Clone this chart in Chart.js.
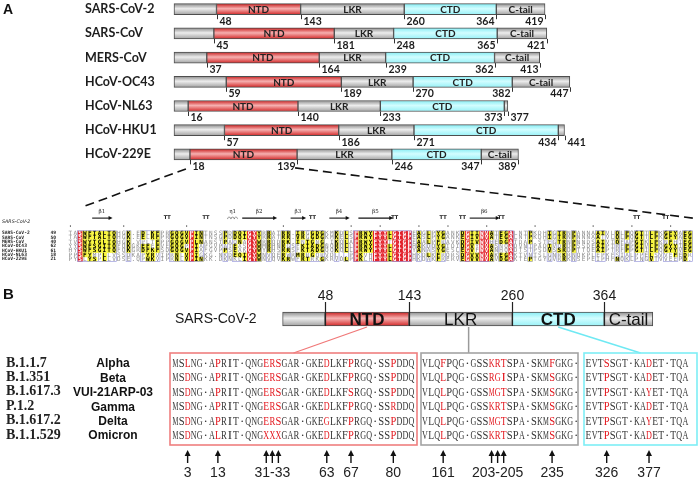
<!DOCTYPE html>
<html>
<head>
<meta charset="utf-8">
<script src="https://cdn.jsdelivr.net/npm/chart.js@4.4.0/dist/chart.umd.min.js"></script>
<style>
  html, body { margin: 0; padding: 0; background: #fff; overflow: hidden; }
  canvas { display: block; }
</style>
</head>
<body>
<canvas id="fig" width="699" height="480"></canvas>
<script>
// ============================================
// Panel A — N protein domain boundaries
// ============================================
const viruses  = ['SARS-CoV-2', 'SARS-CoV', 'MERS-CoV', 'HCoV-OC43', 'HCoV-NL63', 'HCoV-HKU1', 'HCoV-229E'];
const ntdStart = [48, 45, 37, 59, 16, 57, 18];
const ntdEnd   = [143, 181, 164, 189, 140, 186, 139];
const ctdStart = [260, 248, 239, 270, 233, 271, 246];
const ctdEnd   = [364, 365, 362, 382, 373, 434, 347];
const protLen  = [419, 421, 413, 447, 377, 441, 389];

// NTD alignment (ESPript style)
const alnNames = ['SARS-CoV-2', 'SARS-CoV', 'MERS-CoV', 'HCoV-OC43', 'HCoV-HKU1', 'HCoV-NL63', 'HCoV-229E'];
const alnStart = [49, 50, 40, 62, 61, 18, 21];
const alnSeqs = [
  'TASWFTALTQHGK' + '.EDLKFPRGQGVPINTNSSPDDQ' + 'IGYYRRATRR' + '.IRGGDGKMKDL' + 'SPRWYFYYLGTGP' + 'EAGLPYGANKDG' + 'IIWVATEGALNTPKDHIGTRNP' + 'ANNAAIVLQLPQGTTLPKGFYAEG',
  'TASWFTALTQHGK' + '.EELRFPRGQGVPINTNSGPDDQ' + 'IGYYRRATRR' + '.VRGGDGKMKEL' + 'SPRWYFYYLGTGP' + 'EASLPYGANKEG' + 'IVWVATEGALNTPKDHIGTRNP' + 'NNNAATVLQLPQGTTLPKGFYAEG',
  'TVSWYTGLTQHGK' + '.VPLTFPPGQGVPLNANSTPAQN' + 'AGYWRRQDRK' + '.INTGNG.IKQL' + 'APRWYFYYTGTGP' + 'EAALPFRAVKDG' + 'IVWVHEDGATDAP.STFGTRNP' + 'NNDSAIVTQFAPGTKLPKNFHIEG',
  'YYSWFSGITQFQK' + 'GKEFEFVEGQGPPIAPGVPATEA' + 'SGYWMRHNRG' + 'SFKTADGNQRQL' + 'LPRWYFYYLGTGP' + 'HAKDQYGTDIDG' + 'VYWVASNQADVNTPADIVDRDP' + 'SSDEAIPTRFPPGTVLPQGYYIEG',
  'HYSWFSGITQFQK' + 'GRDFKFSDGQGVPIAFGVPPSEA' + 'KGYWYRHSRR' + 'SFKTADGQQKQL' + 'LPRWYFYYLGTGP' + 'YANASYGESLEG' + 'VFWVANHQADTSTPSDVSSRDP' + 'TTQEAIPTRFPPGTILPQGYYVEG',
  'PPSFYMPLLVSSD' + 'KAPYRVIPRNLVPIGKG.NKDEQ' + 'IGYWNVQERW' + 'RMRRGQRVDL..' + 'PPKVHFYYLGTGP' + 'HKDLKFRQRSDG' + 'VVWVAKEGAKTVNTSLGNRKRN' + 'QKPLEPKFSIALPPELSVVEFEDR',
  'PYSLYSPLLVDSE' + '.QPWKVIPRNLVPINKK.DKNKL' + 'IGYWNVQVKR' + 'WFRTRKGKRVDL' + 'PPKLHFYYLGTGP' + 'HKDAKFRERVEG' + 'VVWVAVDGAKTEPTGYGVRRKN' + 'SEPEIPHFNQKLPNGVTVVEEPD.',
];
// secondary structure of SARS-CoV-2 NTD (alignment columns)
const ssStrands = [['β1', 5, 8], ['β2', 36, 42], ['β3', 46, 48], ['β4', 54, 57], ['β5', 60, 66], ['β6', 83, 88]];
const ssTurns = [20, 28, 50, 67, 77, 81, 89, 117, 123];
const ssDots = [0, 11, 24, 44, 58, 64, 72, 78, 86, 96, 108, 116, 124];

// ============================================
// Panel B — variants
// ============================================
const variantIds   = ['B.1.1.7', 'B.1.351', 'B.1.617.3', 'P.1.2', 'B.1.617.2', 'B.1.1.529'];
const variantNames = ['Alpha', 'Beta', 'VUI-21ARP-03', 'Gamma', 'Delta', 'Omicron'];
const seqNTD = [
  'MSLNG·APRIT·QNGERSGAR·GKEDLKFPRGQ·SSPDDQ',
  'MSDNG·APRIT·QNGERSGAR·GKEDLKFPRGQ·SSPDDQ',
  'MSDNG·APRIT·QNGERSGAR·GKEDLKFSRGQ·SSPDDQ',
  'MSDNG·APRIT·QNGERSGAR·GKEDLKFPRGQ·SSRDDQ',
  'MSDNG·APRIT·QNGERSGAR·GKEGLKFPRGQ·SSPDDQ',
  'MSDNG·ALRIT·QNGXXXGAR·GKEDLKFPRGQ·SSPDDQ',
];
const seqLKR = [
  'VLQFPQG·GSSKRTSPA·SKMFGKG·',
  'VLQLPQG·GSSRGISPA·SKMSGKG·',
  'VLQLPQG·GSSMGTSPA·SKMSGKG·',
  'VLQLPQG·GSSKRTSPA·SKMSGKG·',
  'VLQLPQG·GSSMGTSPA·SKMSGKG·',
  'VLQLPQG·GSSKRTSPA·SKMSGKG·',
];
const seqCTD = [
  'EVTSSGT·KADET·TQA',
  'EVTPSGT·KADET·TQA',
  'EVTPSGT·KAYET·TQA',
  'EVTPSGT·KADET·TQA',
  'EVTPSGT·KAYET·TQA',
  'EVTPSGT·KADET·TQA',
];
// mutated columns inside each box, and the residue labels under the arrows
const mutCols    = [[2, 7, 15, 16, 17, 25, 29, 36], [3, 11, 12, 13, 21], [3, 10]];
const siteLabels = [['3', '13', '31-33', '63', '67', '80'], ['161', '203-205', '235'], ['326', '377']];
const siteLabelCols = [[2, 7, 16, 25, 29, 36], [3, 12, 21], [3, 10]];

// ============================================
// style
// ============================================
const BAR_A = 11, BAR_B = 14;
const GRAY = ['#8c8c8c', '#ededed', '#a2a2a2'];
const RED  = ['#c91f1f', '#f6b0b0', '#d22828'];
const CYAN = ['#86ecf3', '#d2fdff', '#98f1f7'];
const SEQ_W = 6.05;
const boxes = [
  { left: 170, right: 417, seqX: 172.5, stroke: '#ef7f7f', seqs: seqNTD },
  { left: 421, right: 578, seqX: 422,   stroke: '#a3a3a3', seqs: seqLKR },
  { left: 584, right: 697, seqX: 585.5, stroke: '#7eeef6', seqs: seqCTD },
];
const BOX_TOP = 353, BOX_BOTTOM = 445;

// linear scale spanning the whole canvas with a given origin and density
function span(originPx, pxPerUnit, size) {
  return { min: -originPx / pxPerUnit, max: (size - originPx) / pxPerUnit };
}

function gloss(cols, thick, yAxis) {
  return (c) => {
    const ch = c.chart;
    if (c.type !== 'data' || !ch.chartArea || !c.raw) return cols[1];
    const yc = ch.scales[yAxis].getPixelForValue(c.raw.y);
    const g = ch.ctx.createLinearGradient(0, yc - thick / 2, 0, yc + thick / 2);
    g.addColorStop(0, cols[0]);
    g.addColorStop(0.45, cols[1]);
    g.addColorStop(1, cols[2]);
    return g;
  };
}

const segDefs = [
  { from: viruses.map(() => 0), to: ntdStart, cols: GRAY },
  { from: ntdStart, to: ntdEnd, cols: RED },
  { from: ntdEnd, to: ctdStart, cols: GRAY },
  { from: ctdStart, to: ctdEnd, cols: CYAN },
  { from: ctdEnd, to: protLen, cols: GRAY },
];
const datasets = [];
segDefs.forEach(d => {
  const common = { borderColor: '#4e4e4e', borderWidth: 1, borderSkipped: false, grouped: false };
  datasets.push(Object.assign({
    data: d.from.map((v, i) => ({ x: [v, d.to[i]], y: i })),
    xAxisID: 'xA', yAxisID: 'yA', barThickness: BAR_A,
    backgroundColor: gloss(d.cols, BAR_A, 'yA'),
  }, common));
  datasets.push(Object.assign({
    data: [{ x: [d.from[0], d.to[0]], y: 0 }],
    xAxisID: 'xB', yAxisID: 'yB', barThickness: BAR_B,
    backgroundColor: gloss(d.cols, BAR_B, 'yB'),
  }, common));
});

// ============================================
// drawing helpers
// ============================================
function txt(ctx, s, x, y, font, color, align = 'left', base = 'middle', maxW) {
  ctx.font = font; ctx.fillStyle = color; ctx.textAlign = align; ctx.textBaseline = base;
  if (maxW) ctx.fillText(s, x, y, maxW); else ctx.fillText(s, x, y);
}
function line(ctx, x1, y1, x2, y2, color, w, dash) {
  ctx.beginPath(); ctx.strokeStyle = color; ctx.lineWidth = w; ctx.setLineDash(dash || []);
  ctx.moveTo(x1, y1); ctx.lineTo(x2, y2); ctx.stroke(); ctx.setLineDash([]);
}

function drawPanelA(ctx, s) {
  const xA = s.xA, yA = s.yA, half = BAR_A / 2;
  txt(ctx, 'A', 3, 3, 'bold 14px "Liberation Sans"', '#111', 'left', 'top');
  viruses.forEach((name, i) => {
    const yc = yA.getPixelForValue(i);
    txt(ctx, name, 85, yc, 'bold 12.5px Lato', '#1d1d1d');
    const segs = [['NTD', ntdStart[i], ntdEnd[i]], ['LKR', ntdEnd[i], ctdStart[i]],
                  ['CTD', ctdStart[i], ctdEnd[i]], ['C-tail', ctdEnd[i], protLen[i]]];
    segs.forEach(([lab, a, b]) => {
      if (b - a < 20) return;
      txt(ctx, lab, xA.getPixelForValue((a + b) / 2), yc + 0.5, 'bold 10px Lato', '#222', 'center');
    });
    const bounds = [ntdStart[i], ntdEnd[i], ctdStart[i], ctdEnd[i], protLen[i]];
    const yb = yc + half;
    bounds.forEach((b, k) => {
      const x = Math.round(xA.getPixelForValue(b)) + 0.5;
      line(ctx, x, yb, x, yb + 4.5, '#333', 1);
      let right = k < 3;
      if (k === 4) right = protLen[i] - ctdEnd[i] < 15;
      if (i === viruses.length - 1 && k === 1) right = false; // zoom line starts here
      txt(ctx, String(b), right ? x + 2 : x - 2, yb + 6.5, 'bold 10.5px Lato', '#1d1d1d', right ? 'left' : 'right');
    });
  });
  // zoom lines towards the alignment
  const last = viruses.length - 1;
  const yb = yA.getPixelForValue(last) + half;
  line(ctx, xA.getPixelForValue(ntdStart[last]) - 4, yb + 9, s.xAln.getPixelForValue(2.4), s.yAln.getPixelForValue(-5.9), '#111', 1.6, [9, 5]);
  line(ctx, xA.getPixelForValue(ntdEnd[last]) - 2, yb + 8, s.xAln.getPixelForValue(128.6), s.yAln.getPixelForValue(-3.4), '#111', 1.6, [9, 5]);
}

const simGroups = ['ILVM', 'FYW', 'KRH', 'DE', 'ST', 'NQ', 'AG'];
function classOf(ch) {
  const g = simGroups.find(g => g.includes(ch));
  return g || ch;
}
function classify(col) {
  const res = col.filter(ch => ch !== '.' && ch !== ' ');
  const ids = {}, cls = {};
  res.forEach(ch => { ids[ch] = (ids[ch] || 0) + 1; const k = classOf(ch); cls[k] = (cls[k] || 0) + 1; });
  const idMax = Math.max(0, ...Object.values(ids));
  if (idMax === col.length) return { kind: 'id' };
  let bestK = null, bestN = 0;
  for (const k in cls) if (cls[k] > bestN) { bestN = cls[k]; bestK = k; }
  if (bestN >= 4) return { kind: 'sim', match: ch => ch !== '.' && classOf(ch) === bestK };
  return { kind: 'none' };
}

function drawAlignment(ctx, s) {
  const xs = s.xAln, ys = s.yAln;
  const cw = xs.getPixelForValue(1) - xs.getPixelForValue(0);
  const rh = ys.getPixelForValue(1) - ys.getPixelForValue(0);
  const nCol = Math.max(...alnSeqs.map(q => q.length));

  // secondary structure header
  txt(ctx, 'SARS-CoV-2', 2, ys.getPixelForValue(-2.5), 'italic 4.8px "DejaVu Sans"', '#222');
  const yLab = ys.getPixelForValue(-4.8), yArr = ys.getPixelForValue(-3.4), yDot = ys.getPixelForValue(-1.6);
  ssStrands.forEach(([lab, a, b]) => {
    const x1 = xs.getPixelForValue(a - 0.5), x2 = xs.getPixelForValue(b + 0.5);
    line(ctx, x1, yArr, x2 - 2, yArr, '#111', 1.1);
    ctx.beginPath(); ctx.fillStyle = '#111';
    ctx.moveTo(x2 + 1, yArr); ctx.lineTo(x2 - 3, yArr - 2); ctx.lineTo(x2 - 3, yArr + 2); ctx.closePath(); ctx.fill();
    txt(ctx, lab, (x1 + x2) / 2, yLab, '5.5px "DejaVu Serif"', '#222', 'center');
  });
  ssTurns.forEach(c => txt(ctx, 'TT', xs.getPixelForValue(c), yArr, 'bold 5px "DejaVu Sans"', '#111', 'center'));
  ssDots.forEach(c => { ctx.fillStyle = '#222'; ctx.fillRect(xs.getPixelForValue(c) - 0.5, yDot - 0.5, 1.1, 1.1); });
  // eta helix
  const xe = xs.getPixelForValue(33.5);
  txt(ctx, 'η1', xe, yLab, '5.5px "DejaVu Serif"', '#222', 'center');
  ctx.strokeStyle = '#555'; ctx.lineWidth = 0.6;
  for (let k = -1; k <= 1; k++) { ctx.beginPath(); ctx.arc(xe + k * 3.4, yArr + 0.5, 1.5, Math.PI * 0.9, Math.PI * 2.1, false); ctx.stroke(); }

  // row labels
  alnNames.forEach((n, r) => {
    const y = ys.getPixelForValue(r);
    txt(ctx, n, 2, y, 'bold 4.6px "DejaVu Sans Mono"', '#222');
    txt(ctx, String(alnStart[r]), 56, y, 'bold 4.6px "DejaVu Sans Mono"', '#222', 'right');
  });

  // residues
  const kinds = [];
  for (let c = 0; c < nCol; c++) {
    const col = alnSeqs.map(q => q[c] || '.');
    const k = classify(col);
    kinds.push(k.kind);
    const x = xs.getPixelForValue(c);
    col.forEach((ch, r) => {
      const y = ys.getPixelForValue(r);
      let bg = null, fg = '#8e8e8e', bold = false;
      if (k.kind === 'id') { bg = '#e2212b'; fg = '#fff'; bold = true; }
      else if (k.kind === 'sim' && k.match(ch)) { bg = '#f7f53c'; fg = '#000'; bold = true; }
      if (bg) { ctx.fillStyle = bg; ctx.fillRect(x - cw / 2, y - rh / 2, cw + 0.2, rh + 0.15); }
      txt(ctx, ch, x, y + 0.3, (bold ? 'bold ' : '') + '6px "DejaVu Sans Mono"', fg, 'center');
    });
  }
  // blue frames around conserved blocks
  ctx.strokeStyle = '#8c8cd6'; ctx.lineWidth = 0.6;
  let c = 0;
  while (c < nCol) {
    if (kinds[c] === 'none') { c++; continue; }
    let e = c; while (e + 1 < nCol && kinds[e + 1] !== 'none') e++;
    const x1 = xs.getPixelForValue(c) - cw / 2, x2 = xs.getPixelForValue(e) + cw / 2;
    const y1 = ys.getPixelForValue(0) - rh / 2, y2 = ys.getPixelForValue(alnSeqs.length - 1) + rh / 2;
    ctx.strokeRect(x1, y1, x2 - x1, y2 - y1);
    c = e + 1;
  }
}

function drawPanelB(ctx, s) {
  const xB = s.xB, yc = s.yB.getPixelForValue(0), half = BAR_B / 2;
  txt(ctx, 'B', 3, 287, 'bold 15px "Liberation Sans"', '#111', 'left', 'top');
  txt(ctx, 'SARS-CoV-2', xB.getPixelForValue(0) - 26, yc, '14px "Liberation Sans"', '#1a1a1a', 'right');

  [ntdStart[0], ntdEnd[0], ctdStart[0], ctdEnd[0]].forEach(b => {
    const x = Math.round(xB.getPixelForValue(b)) + 0.5;
    line(ctx, x, yc - half - 10, x, yc + half, '#222', 1.2);
    txt(ctx, String(b), x, yc - half - 16, '14px "Liberation Sans"', '#1a1a1a', 'center');
  });
  const mid = (a, b) => xB.getPixelForValue((a + b) / 2);
  txt(ctx, 'NTD', mid(ntdStart[0], ntdEnd[0]), yc + 1, 'bold 17px "Liberation Sans"', '#111', 'center');
  txt(ctx, 'LKR', mid(ntdEnd[0], ctdStart[0]), yc + 1, '17px "Liberation Sans"', '#111', 'center');
  txt(ctx, 'CTD', mid(ctdStart[0], ctdEnd[0]), yc + 1, 'bold 17px "Liberation Sans"', '#111', 'center');
  txt(ctx, 'C-tail', mid(ctdEnd[0], protLen[0]), yc + 1, '17px "Liberation Sans"', '#111', 'center', 'middle', 46);

  // connectors to the sequence boxes
  const yb = yc + half + 1;
  line(ctx, mid(ntdStart[0], ntdEnd[0]), yb, (boxes[0].left + boxes[0].right) / 2, BOX_TOP, '#f07878', 1.3);
  line(ctx, mid(ntdEnd[0], ctdStart[0]) + 8, yb, mid(ntdEnd[0], ctdStart[0]) + 8, BOX_TOP, '#9a9a9a', 1.5);
  line(ctx, mid(ctdStart[0], ctdEnd[0]), yb, (boxes[2].left + boxes[2].right) / 2, BOX_TOP, '#6fe9f3', 1.5);

  // variant labels
  variantIds.forEach((id, r) => {
    const y = 363 + r * 14.4;
    txt(ctx, id, 6, y, 'bold 14px "Liberation Serif"', '#222');
    txt(ctx, variantNames[r], 113, y + 1, 'bold 12px "Liberation Sans"', '#111', 'center');
  });

  boxes.forEach((bx, bi) => {
    ctx.strokeStyle = bx.stroke; ctx.lineWidth = 1.6;
    ctx.strokeRect(bx.left, BOX_TOP, bx.right - bx.left, BOX_BOTTOM - BOX_TOP);
    bx.seqs.forEach((sq, r) => {
      const y = 363 + r * 14.4 + 0.5;
      for (let k = 0; k < sq.length; k++) {
        const red = mutCols[bi].includes(k);
        txt(ctx, sq[k], bx.seqX + (k + 0.5) * SEQ_W, y, '13px "Liberation Serif"', red ? '#e3141b' : '#333', 'center', 'middle', SEQ_W - 0.2);
      }
    });
    // arrows under mutated sites
    mutCols[bi].forEach(k => {
      const x = bx.seqX + (k + 0.5) * SEQ_W;
      line(ctx, x, 454, x, 463, '#111', 1.4);
      ctx.beginPath(); ctx.fillStyle = '#111';
      ctx.moveTo(x, 450); ctx.lineTo(x - 3, 456); ctx.lineTo(x + 3, 456); ctx.closePath(); ctx.fill();
    });
    siteLabels[bi].forEach((lab, j) => {
      const x = bx.seqX + (siteLabelCols[bi][j] + 0.5) * SEQ_W;
      txt(ctx, lab, x, 473, '14px "Liberation Sans"', '#222', 'center');
    });
  });
}

const annotations = {
  id: 'figureAnnotations',
  afterDatasetsDraw(chart) {
    const ctx = chart.ctx;
    ctx.save();
    drawPanelA(ctx, chart.scales);
    drawAlignment(ctx, chart.scales);
    drawPanelB(ctx, chart.scales);
    ctx.restore();
  }
};

const W = 699, H = 480;
// hidden axes; bar charts give the index axis an offset by default, which would shift the rows
const hidden = { display: false, offset: false, grid: { offset: false } };
new Chart(document.getElementById('fig').getContext('2d'), {
  type: 'bar',
  data: { datasets },
  options: {
    indexAxis: 'y',
    responsive: false,
    animation: false,
    events: [],
    layout: { padding: 0 },
    plugins: { legend: { display: false }, tooltip: { enabled: false } },
    scales: {
      xA:   Object.assign({ type: 'linear', axis: 'x' }, span(174, 0.8855, W), hidden),
      yA:   Object.assign({ type: 'linear', axis: 'y', reverse: true }, span(9.2, 24.2, H), hidden),
      xB:   Object.assign({ type: 'linear', axis: 'x' }, span(282.6, 0.8835, W), hidden),
      yB:   Object.assign({ type: 'linear', axis: 'y', reverse: true }, span(319, 20, H), hidden),
      xAln: Object.assign({ type: 'linear', axis: 'x' }, span(70.4, 4.84, W), hidden),
      yAln: Object.assign({ type: 'linear', axis: 'y', reverse: true }, span(233, 4.38, H), hidden),
    }
  },
  plugins: [annotations]
});
</script>
</body>
</html>
